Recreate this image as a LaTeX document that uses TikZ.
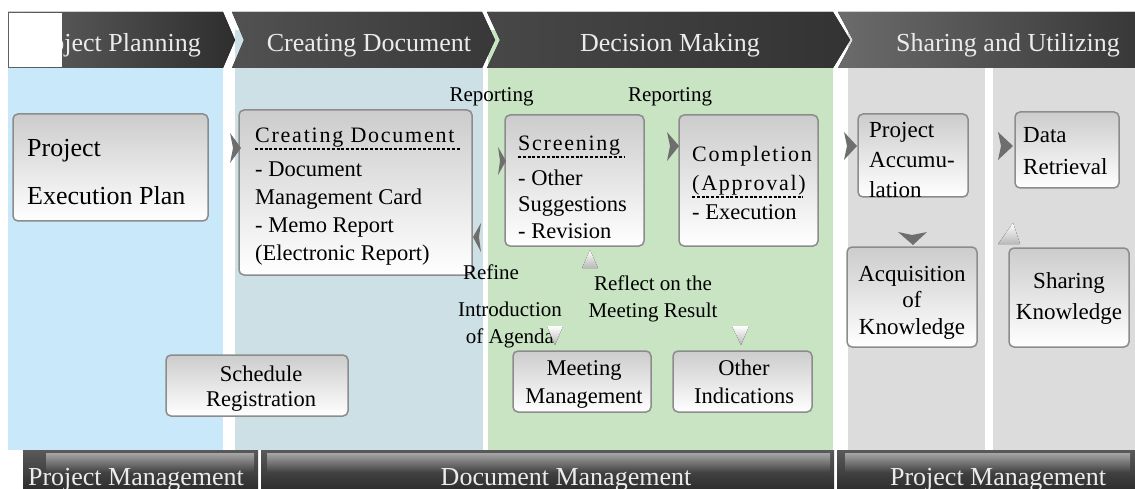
\documentclass[tikz,border=0pt]{standalone}
\usepackage{fontspec}
\setmainfont{Liberation Serif}
\newfontfamily\wideserif[LetterSpace=8]{Liberation Serif}
\definecolor{planblue}{HTML}{C9E8F9}
\definecolor{docblue}{HTML}{CCE0E6}
\definecolor{decgreen}{HTML}{C8E4C2}
\definecolor{sharegray}{HTML}{DCDCDC}
\definecolor{tipgray}{HTML}{6E6E6E}
\definecolor{boxline}{HTML}{8C8C8C}
\definecolor{bardark}{HTML}{2E2E2E}

\begin{document}
\begin{tikzpicture}[x=1pt,y=-1pt,
		box/.style={draw=boxline,line width=1.5pt,rounded corners=5pt,top color=gray!40,bottom color=white,inner sep=0pt},
		boxtext/.style={font=\fontsize{22.5}{27.7}\selectfont,align=left,inner sep=0pt,anchor=base west},
		boxtitle/.style={font=\wideserif\fontsize{22}{29}\selectfont,align=left,inner sep=0pt,anchor=base west},
		lbl/.style={font=\fontsize{21}{27}\selectfont,align=center,inner sep=0pt,anchor=base},
		head/.style={text=white!92!black,font=\fontsize{26}{30}\selectfont,inner sep=0pt,anchor=base},
		uline/.style={line width=2.6pt,dash pattern=on 3pt off 1.8pt},
		tip/.style={fill=tipgray},
		wtip/.style={top color=white,bottom color=gray!55},
		gloss/.style={top color=gray!70,bottom color=bardark!90!white}]
		\useasboundingbox (0,0) rectangle (1135,489);
		\def\colTop{30}
		\def\colBot{450}
		\fill[planblue] (8,\colTop) rectangle (223,\colBot);
		\fill[docblue] (235,\colTop) rectangle (483,\colBot);
		\fill[decgreen] (488,\colTop) rectangle (833,\colBot);
		\fill[sharegray] (848,\colTop) rectangle (985,\colBot);
		\fill[sharegray] (993,\colTop) rectangle (1135,\colBot);
		\fill[left color=black!62,right color=bardark] (8,12) -- (223,12) -- (235,40) -- (223,68) -- (8,68) -- cycle;
		\fill[left color=black!68,right color=black!78] (232,12) -- (482,12) -- (495,40) -- (482,68) -- (232,68) -- (244,40) -- cycle;
		\fill[left color=black!72,right color=black!80] (487,12) -- (833,12) -- (850,40) -- (833,68) -- (487,68) -- (500,40) -- cycle;
		\fill[left color=black!58,right color=black!78] (838,12) -- (1135,12) -- (1135,68) -- (838,68) -- (853,40) -- cycle;
		\node[head,anchor=base east] (hplan) at (201,52) {Project Planning};
		\fill[white] (9,13) rectangle (62,67);
		\node[head] (hdoc) at (369,52) {Creating Document};
		\node[head] (hdec) at (670,52) {Decision Making};
		\node[head] (hshare) at (1008,52) {Sharing and Utilizing};
		\fill[top color=black!65,bottom color=bardark] (23,450) rectangle (258,489);
		\fill[gloss] (46,453) rectangle (254,472);
		\fill[top color=black!65,bottom color=bardark] (261,450) rectangle (834,489);
		\fill[gloss] (267,453) rectangle (830,472);
		\fill[top color=black!65,bottom color=bardark] (837,450) rectangle (1135,489);
		\fill[gloss] (845,453) rectangle (1130,472);
		\node[head] (bproj) at (136,485) {Project Management};
		\node[head] (bdoc) at (566,485) {Document Management};
		\node[head] (bshare) at (998,485) {Project Management};
		\node[box,minimum width=195,minimum height=107] (pep) at (110.5,167.5) {};
		\node[box,minimum width=233,minimum height=165] (cdoc) at (355.5,192.5) {};
		\node[box,minimum width=139,minimum height=131] (scr) at (574.5,180.5) {};
		\node[box,minimum width=139,minimum height=131] (cmp) at (748.5,180.5) {};
		\node[box,minimum width=138,minimum height=61] (mtg) at (582,381.5) {};
		\node[box,minimum width=139,minimum height=61] (oth) at (742.5,381.5) {};
		\node[box,minimum width=182,minimum height=61] (sch) at (257,385.5) {};
		\node[box,minimum width=110,minimum height=83] (pacc) at (913,155.5) {};
		\node[box,minimum width=104,minimum height=76] (dret) at (1067,150) {};
		\node[box,minimum width=130,minimum height=100] (acq) at (912,297) {};
		\node[box,minimum width=120,minimum height=99] (shk) at (1069,297.5) {};
		\node[boxtext,font=\fontsize{26}{48}\selectfont] (pep-t) at (27,205) {Project\\Execution Plan};
		\node[boxtitle] (cdoc-h) at (255,143) {Creating Document};
		\draw[uline] (255,149) -- (460,149);
		\node[boxtext] (cdoc-t) at (255,260) {- Document\\Management Card\\- Memo Report\\(Electronic Report)};
		\node[boxtitle] (scr-h) at (518,151) {Screening};
		\draw[uline] (518,157) -- (625,157);
		\node[boxtext,font=\fontsize{22.5}{26}\selectfont] (scr-t) at (518,238) {- Other\\Suggestions\\- Revision};
		\node[boxtitle] (cmp-h) at (692,191) {Completion\\(Approval)};
		\draw[uline] (692,197) -- (803,197);
		\node[boxtext] (cmp-t) at (692,219) {- Execution};
		\node[boxtext,align=center,anchor=base] (mtg-t) at (584,403) {Meeting\\Management};
		\node[boxtext,align=center,anchor=base] (oth-t) at (744,403) {Other\\Indications};
		\node[boxtext,align=center,anchor=base,font=\fontsize{22.5}{25}\selectfont] (sch-t) at (261,406) {Schedule\\Registration};
		\node[boxtext,font=\fontsize{23}{30}\selectfont] (pacc-t) at (869,198) {Project\\Accumu-\\lation};
		\node[boxtext,font=\fontsize{23}{32}\selectfont] (dret-t) at (1023,175) {Data\\Retrieval};
		\node[boxtext,align=center,anchor=base,font=\fontsize{23}{26.5}\selectfont] (acq-t) at (912,334) {Acquisition\\of\\Knowledge};
		\node[boxtext,align=center,anchor=base,font=\fontsize{23}{31}\selectfont] (shk-t) at (1069,319) {Sharing\\Knowledge};
		\node[lbl] (rep1) at (491.5,102) {Reporting};
		\node[lbl] (rep2) at (670,102) {Reporting};
		\node[lbl] (refine) at (491,279) {Refine};
		\node[lbl] (intro) at (510,343) {Introduction\\of Agenda};
		\node[lbl] (reflect) at (653,317) {Reflect on the\\Meeting Result};
		\fill[tip] (230,133) -- (241,148) -- (230,163) -- (233,148) -- cycle;
		\fill[tip] (498,147) -- (506,161) -- (498,175) -- (500,161) -- cycle;
		\fill[tip] (667,132) -- (679,146) -- (667,161) -- (670,146) -- cycle;
		\fill[tip] (844,132) -- (857,146) -- (844,160) -- (847,146) -- cycle;
		\fill[tip] (998,132) -- (1013,146) -- (998,160) -- (1001,146) -- cycle;
		\fill[tip] (481,223) -- (473,237) -- (481,252) -- (479,237) -- cycle;
		\fill[tip] (898,232) -- (912,235) -- (927,232) -- (913,245) -- cycle;
		\fill[wtip] (582,268) -- (590,250) -- (598,268) -- cycle;
		\fill[wtip] (547,326) -- (563,326) -- (555,345) -- cycle;
		\fill[wtip] (732,326) -- (749,326) -- (741,345) -- cycle;
		\fill[wtip] (998,244) -- (1013,223) -- (1020,244) -- cycle;
\end{tikzpicture}
\end{document}
